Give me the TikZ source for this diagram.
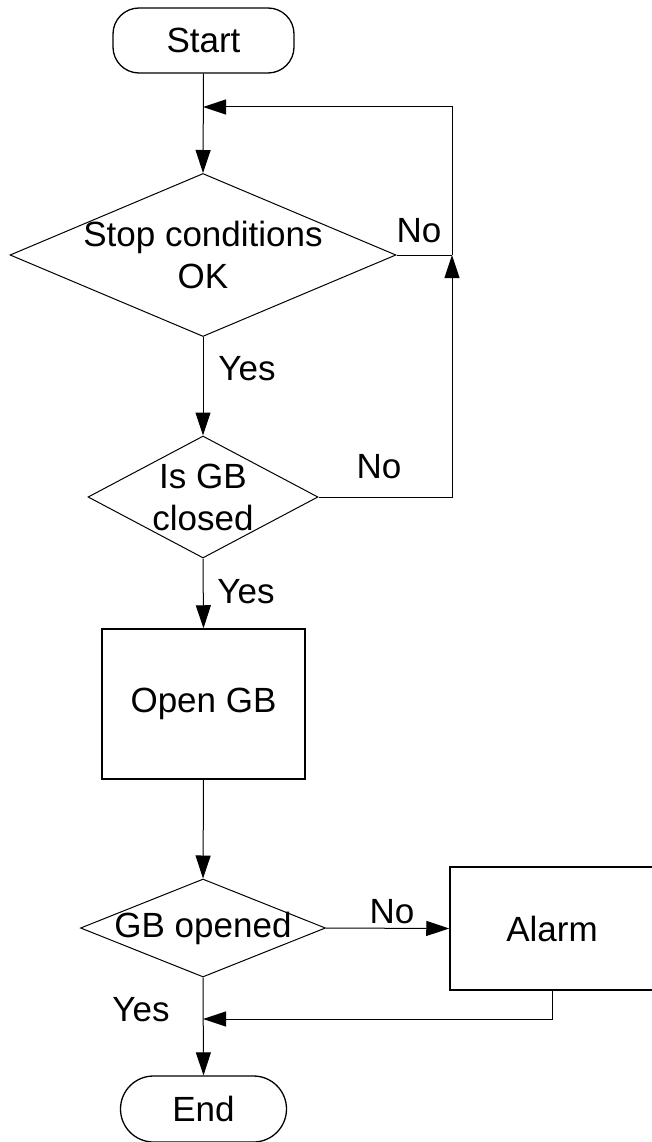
\documentclass[tikz,border=0pt]{standalone}
\usepackage{fontspec}
\setmainfont{Liberation Sans}
\usetikzlibrary{shapes.geometric,arrows.meta}

\tikzset{
  base/.style={font=\fontsize{35}{42}\selectfont, inner sep=0pt},
  terminal/.style={base, draw, line width=1.3pt, rounded corners=#1},
  procbox/.style={base, draw, line width=1.5pt},
  decision/.style={base, draw, diamond, line width=1pt},
  dtext/.style={base, align=center},
  lbl/.style={base},
  conn/.style={line width=1pt},
  arr/.style={conn, -{Triangle[length=23pt,width=15pt]}},
}

\begin{document}
\begin{tikzpicture}[x=1pt,y=-1pt]
\useasboundingbox (0,0) rectangle (651,1142);

% process steps
\node[terminal=26pt, minimum width=181pt, minimum height=65pt] (start) at (203.5,40.5) {Start};

\node[decision, minimum width=386pt, minimum height=163pt] (d1) at (203,255) {};
\node[dtext] (d1t) at (d1.center) {Stop conditions\\OK};

\node[decision, minimum width=230pt, minimum height=122pt] (d2) at (203,497) {};
\node[dtext] (d2t) at (d2.center) {Is GB\\closed};

\node[procbox, minimum width=203pt, minimum height=150pt] (open) at (203.5,704) {Open GB};

\node[decision, minimum width=245pt, minimum height=98pt] (d3) at (203,928) {};
\node[dtext] (d3t) at (d3.center) {GB opened};

\node[procbox, minimum width=204pt, minimum height=123pt] (alarm) at (552,928.5) {Alarm};

\node[terminal=33pt, minimum width=166pt, minimum height=66pt] (end) at (203.5,1109) {End};

% junction points of the loops
\coordinate (loopin) at (203,107);
\coordinate (jn) at (452,255);
\coordinate (merge) at (203,1019);

% connectors
\draw[arr] (start.south) -- (d1.north);
\draw[conn] (d1.east) -- (jn);
\draw[arr] (jn) |- (loopin);
\draw[arr] (d2.east) -| (jn);
\draw[arr] (d1.south) -- (d2.north);
\draw[arr] (d2.south) -- (open.north);
\draw[arr] (open.south) -- (d3.north);
\draw[arr] (d3.east) -- (alarm.west);
\draw[arr] (alarm.south) |- (merge);
\draw[arr] (d3.south) -- (end.north);

% branch labels
\node[lbl] (no1) at (419,231) {No};
\node[lbl] (yes1) at (247,369) {Yes};
\node[lbl] (no2) at (379,467) {No};
\node[lbl] (yes2) at (246,592) {Yes};
\node[lbl] (no3) at (392,912) {No};
\node[lbl] (yes3) at (141,1010) {Yes};
\end{tikzpicture}
\end{document}
